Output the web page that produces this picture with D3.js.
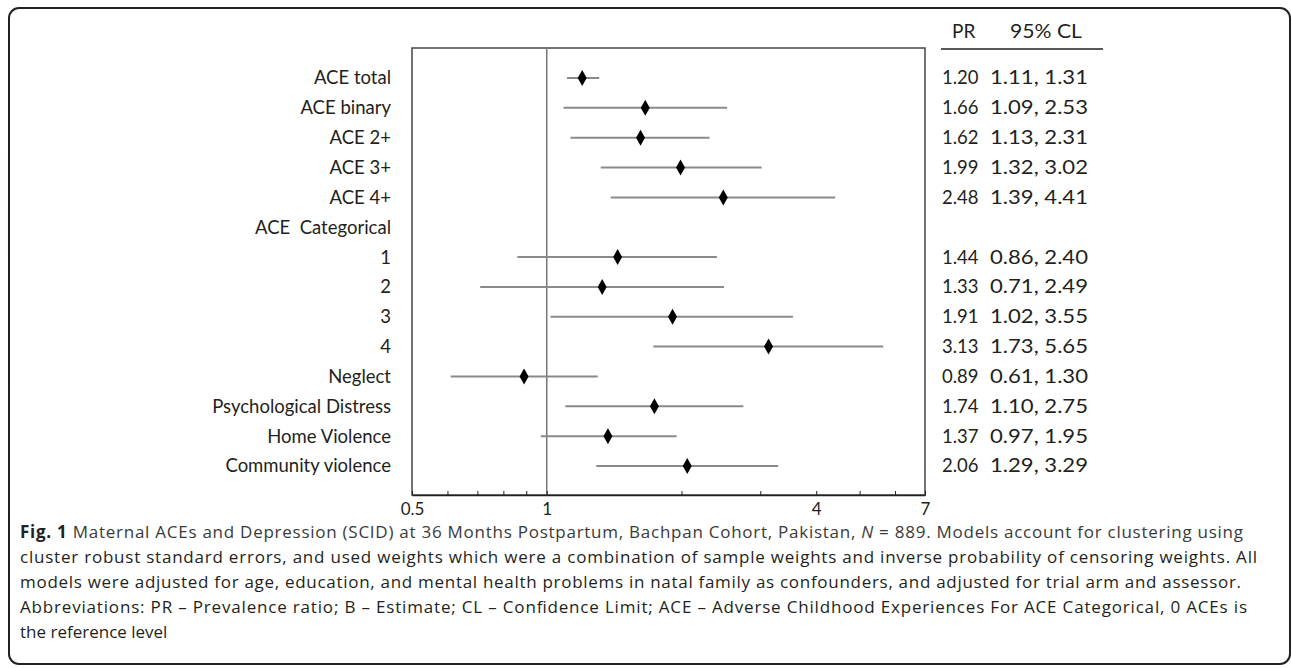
<!DOCTYPE html>
<html>
<head>
<meta charset="utf-8">
<script src="https://cdn.jsdelivr.net/npm/d3@7"></script>
<style>
  body { margin: 0; background: #fff; }
  text { font-family: Lato, "Open Sans", sans-serif; fill: #231f20; }
  .cap text { font-family: "Open Sans", sans-serif; }
</style>
</head>
<body>
<div id="chart"></div>
<script>
/* Forest plot: maternal ACEs and depression */

const labels = ["ACE total", "ACE binary", "ACE 2+", "ACE 3+", "ACE 4+", "ACE  Categorical",
  "1", "2", "3", "4", "Neglect", "Psychological Distress", "Home Violence", "Community violence"];
const pr = [1.20, 1.66, 1.62, 1.99, 2.48, null, 1.44, 1.33, 1.91, 3.13, 0.89, 1.74, 1.37, 2.06];
const lo = [1.11, 1.09, 1.13, 1.32, 1.39, null, 0.86, 0.71, 1.02, 1.73, 0.61, 1.10, 0.97, 1.29];
const hi = [1.31, 2.53, 2.31, 3.02, 4.41, null, 2.40, 2.49, 3.55, 5.65, 1.30, 2.75, 1.95, 3.29];
const tickValues = [0.5, 0.6, 0.7, 0.8, 0.9, 1, 2, 3, 4, 5, 6, 7];
const tickLabels = [0.5, 1, 4, 7];
const caption = [
  "Maternal ACEs and Depression (SCID) at 36 Months Postpartum, Bachpan Cohort, Pakistan, ",
  "cluster robust standard errors, and used weights which were a combination of sample weights and inverse probability of censoring weights. All",
  "models were adjusted for age, education, and mental health problems in natal family as confounders, and adjusted for trial arm and assessor.",
  "Abbreviations: PR – Prevalence ratio; B – Estimate; CL – Confidence Limit; ACE – Adverse Childhood Experiences For ACE Categorical, 0 ACEs is",
  "the reference level"
];
const captionEnds = [1243, 1257, 1241, 1247, null]; // right edge of each caption line

const width = 1292, height = 668;
const plot = ({ left: 412, right: 925, top: 48, bottom: 495 });

const svg = d3.select("#chart")
  .append("svg")
  .attr("width", width)
  .attr("height", height);

// outer rounded frame
svg.append("rect")
  .attr("x", 9).attr("y", 8)
  .attr("width", 1281).attr("height", 656)
  .attr("rx", 10)
  .attr("fill", "none")
  .attr("stroke", "#222")
  .attr("stroke-width", 2);

const rows = labels.map((d, i) => ({ label: d, pr: pr[i], lo: lo[i], hi: hi[i] }));

let x = d3.scaleLog()
  .domain([0.5, 7])
  .range([plot.left, plot.right]);

let y = d3.scalePoint()
  .domain(labels)
  .range([78, 466]);

// plot box
svg.append("rect")
  .attr("x", plot.left).attr("y", plot.top)
  .attr("width", plot.right - plot.left).attr("height", plot.bottom - plot.top)
  .attr("fill", "none")
  .attr("stroke", "#444")
  .attr("stroke-width", 1.5);

// reference line at 1
svg.append("line")
  .attr("x1", x(1)).attr("x2", x(1))
  .attr("y1", plot.top).attr("y2", plot.bottom)
  .attr("stroke", "#777")
  .attr("stroke-width", 1.5);

// x axis, ticks pointing inward
const axis = svg.append("g")
  .attr("transform", `translate(0,${plot.bottom})`)
  .call(d3.axisBottom(x)
    .tickValues(tickValues)
    .tickSizeInner(-4)
    .tickSizeOuter(0)
    .tickPadding(8)
    .tickFormat(d => tickLabels.includes(d) ? String(d) : ""));
axis.select(".domain").attr("stroke", "#222").attr("stroke-width", 1.5);
axis.selectAll(".tick line").attr("stroke", "#222");
axis.selectAll(".tick text")
  .style("font-family", "Lato, sans-serif")
  .style("font-size", "17px")
  .attr("fill", "#231f20");

// row labels
svg.append("g")
  .selectAll("text")
  .data(rows)
  .join("text")
  .attr("x", 391)
  .attr("y", d => y(d.label))
  .attr("dy", "0.35em")
  .attr("text-anchor", "end")
  .style("font-size", "18.5px")
  .style("white-space", "pre")
  .text(d => d.label);

const est = rows.filter(d => d.pr != null);

// CI lines
svg.append("g")
  .selectAll("line")
  .data(est)
  .join("line")
  .attr("x1", d => x(d.lo))
  .attr("x2", d => x(d.hi))
  .attr("y1", d => y(d.label))
  .attr("y2", d => y(d.label))
  .attr("stroke", "#8a8a8a")
  .attr("stroke-width", 2);

// diamonds
svg.append("g")
  .selectAll("path")
  .data(est)
  .join("path")
  .attr("transform", d => `translate(${x(d.pr)},${y(d.label)})`)
  .attr("d", "M0,-8L4.5,0L0,8L-4.5,0Z")
  .attr("fill", "#000");

// table header
svg.append("text").attr("x", 952).attr("y", 38).style("font-size", "19px").text("PR");
svg.append("text").attr("x", 1010).attr("y", 38).style("font-size", "19px")
  .attr("textLength", 72).attr("lengthAdjust", "spacingAndGlyphs").text("95% CL");
svg.append("line")
  .attr("x1", 941).attr("x2", 1103)
  .attr("y1", 49).attr("y2", 49)
  .attr("stroke", "#222").attr("stroke-width", 1.5);

// table values
const tbl = svg.append("g").style("font-size", "18.5px");
tbl.selectAll(".pr")
  .data(est)
  .join("text")
  .attr("class", "pr")
  .attr("x", 942)
  .attr("y", d => y(d.label))
  .attr("dy", "0.35em")
  .text(d => d.pr.toFixed(2));
tbl.selectAll(".cl")
  .data(est)
  .join("text")
  .attr("class", "cl")
  .attr("x", 990)
  .attr("y", d => y(d.label))
  .attr("dy", "0.35em")
  .attr("textLength", 98)
  .attr("lengthAdjust", "spacingAndGlyphs")
  .text(d => d.lo.toFixed(2) + ", " + d.hi.toFixed(2));

// caption
const cap = svg.append("g").attr("class", "cap").style("font-size", "17px");
const first = cap.append("text").attr("x", 20).attr("y", 538)
  .attr("textLength", captionEnds[0] - 20).attr("lengthAdjust", "spacing");
first.append("tspan").style("font-weight", "bold").attr("fill", "#222").text("Fig. 1");
first.append("tspan").attr("fill", "#3a3a3a").text(" " + caption[0]);
first.append("tspan").attr("fill", "#3a3a3a").style("font-style", "italic").text("N");
first.append("tspan").attr("fill", "#3a3a3a").text(" = 889. Models account for clustering using");
cap.selectAll(".line")
  .data(caption.slice(1))
  .join("text")
  .attr("class", "line")
  .attr("x", 20)
  .attr("y", (d, i) => 563 + i * 25)
  .attr("fill", "#3a3a3a")
  .each(function (d, i) {
    const end = captionEnds[i + 1];
    if (end) d3.select(this).attr("textLength", end - 20).attr("lengthAdjust", "spacing");
  })
  .text(d => d);
</script>
</body>
</html>
